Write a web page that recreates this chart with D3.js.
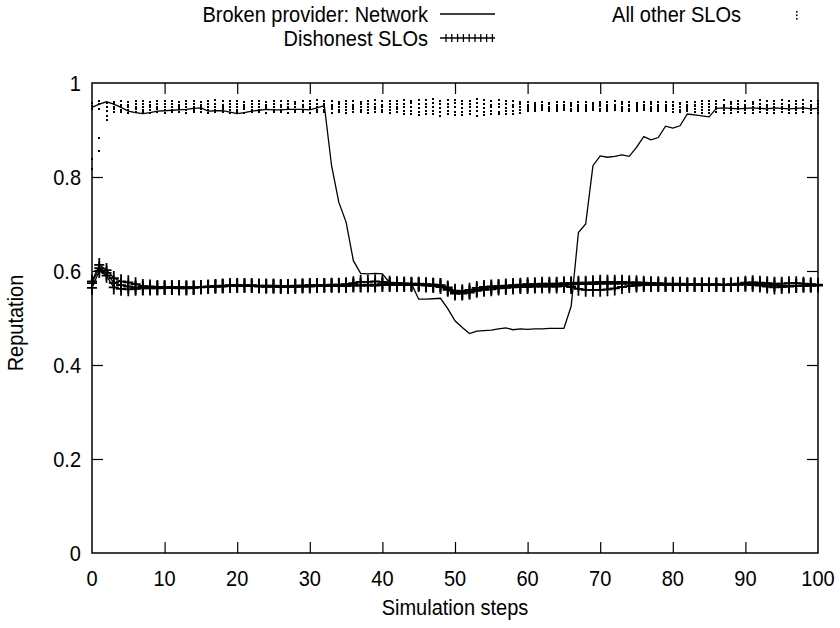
<!DOCTYPE html>
<html><head><meta charset="utf-8">
<script src="https://cdn.jsdelivr.net/npm/d3@7"></script>
<style>body{margin:0;background:#fff} text{font-family:"Liberation Sans",Arial,sans-serif;fill:#000}</style>
</head><body><svg id="c" width="840" height="628"></svg>
<script>
// ---------------- data (values in thousandths of reputation) ----------------
const xTicks = [0,10,20,30,40,50,60,70,80,90,100];
const yTicks = [0,0.2,0.4,0.6,0.8,1];
const yTickLabels = ["0","0.2","0.4","0.6","0.8","1"];
const seriesNames = ["Broken provider: Network","Dishonest SLOs","All other SLOs"];

const network = [948,955,960,955,948,940,937,935,937,940, 941,942,943,944,946,947,940,941,941,938,
 935,937,940,942,944,943,943,944,944,944, 943,947,952,824,746,704,622,595,594,595,
 594,575,574,574,573,540,540,541,542,520, 494,480,467,472,473,474,477,479,475,477,
 476,477,477,478,478,478,525,682,700,824, 845,842,844,847,844,863,886,879,884,908,
 904,909,934,932,930,928,946,947,946,945, 946,947,946,945,947,946,945,946,947,945, 946];

const dishonest1 = [578,613,602,585,578,576,572,568,567,566, 566,566,566,565,565,566,567,568,569,570,
 570,570,570,569,569,569,568,568,569,569, 570,570,570,571,571,572,574,577,577,578,
 577,575,574,573,572,572,571,571,570,565, 558,557,560,564,566,567,568,569,570,571,
 572,572,573,573,573,574,574,575,575,576, 577,577,577,577,576,576,575,574,574,573,
 573,573,572,572,572,572,572,571,572,573, 575,576,575,574,573,573,574,574,573,572, 571];
const dishonest2 = [574,606,596,575,570,567,565,564,564,564, 564,564,563,563,564,565,566,567,568,568,
 569,569,568,568,567,567,567,568,568,569, 569,569,570,570,570,570,570,570,571,571,
 572,572,572,573,573,573,572,571,569,562, 555,553,555,560,563,565,566,567,568,568,
 569,569,570,570,571,571,571,572,572,572, 573,573,573,573,573,572,572,572,571,571,
 571,571,571,571,570,570,570,570,570,571, 571,570,569,567,565,566,567,568,569,569, 570];
const dishonest3 = [564,600,590,565,562,561,562,563,563,563, 564,564,565,565,565,566,566,567,567,568,
 568,568,568,567,567,567,566,566,566,567, 567,568,568,568,568,568,569,569,569,569,
 570,570,570,570,570,570,569,568,566,560, 552,552,554,558,560,561,563,564,565,566,
 566,567,567,567,567,568,566,562,560,560, 560,561,563,566,568,569,570,570,570,570,
 570,570,570,570,570,570,570,570,570,571, 572,573,572,571,570,569,569,569,569,569, 569];

const other1 = [958,962,958,960,961,959,962,961,960,962, 961,962,960,961,962,960,961,963,962,961,
 962,960,961,962,960,961,962,961,960,962, 961,963,962,961,960,962,961,960,962,963,
 961,962,961,963,962,964,963,965,962,963, 964,962,961,965,963,962,964,961,962,960,
 959,958,959,958,960,959,958,959,960,958, 959,960,961,959,960,958,959,960,959,960,
 959,958,960,959,961,962,961,963,960,962, 961,960,963,962,961,963,962,961,963,962, 961];
const other2 = [952,955,950,955,954,953,956,955,954,955, 956,955,954,956,955,954,956,955,954,956,
 955,954,955,956,954,955,954,956,955,954, 955,956,955,954,955,956,954,955,956,955,
 954,955,956,955,957,955,956,957,955,956, 957,955,956,957,955,954,956,955,954,955,
 954,953,954,955,953,954,955,954,953,954, 955,954,953,955,954,953,954,955,954,953,
 954,955,953,954,955,956,955,954,956,955, 954,956,955,954,956,955,954,956,955,954, 955];
const other3 = [945,945,940,950,949,948,950,949,948,950, 949,948,950,949,948,950,949,948,950,949,
 948,950,949,948,950,949,948,950,949,948, 950,949,948,950,949,948,950,949,948,950,
 949,948,950,949,948,947,949,948,947,949, 948,947,949,948,946,949,948,947,949,948,
 949,950,949,950,949,950,951,950,949,950, 951,950,949,950,951,950,949,950,949,950,
 951,950,949,951,950,949,948,950,949,948, 950,949,948,950,949,948,950,949,948,950, 949];
const other4 = [838,884,930,944,943,942,944,943,942,944, 943,942,944,943,942,944,943,942,944,943,
 942,944,943,942,944,943,942,944,943,942, 944,943,942,944,943,942,944,943,942,944,
 943,942,944,941,940,939,941,940,938,940, 939,938,940,941,938,940,939,941,940,942,
 944,945,946,945,944,946,945,944,945,946, 945,944,946,945,944,945,946,945,944,945,
 944,943,945,944,943,942,944,943,942,944, 943,942,944,943,942,944,943,942,944,943, 942];
const other5 = [817,856,922,939,938,937,939,938,937,938, 937,939,938,937,939,938,937,938,939,937,
 938,937,939,938,937,939,938,937,939,938, 937,938,939,937,938,937,939,938,937,938,
 939,937,938,935,934,932,935,933,930,934, 932,931,933,930,932,934,933,935,934,937,
 940,941,942,941,940,942,941,940,941,942, 941,940,942,941,940,941,942,941,940,941,
 939,938,940,939,937,936,938,937,936,938, 937,936,938,937,936,938,937,936,938,937, 936];

// ---------------- drawing ----------------
const svg = d3.select("#c");
const L = 92, R = 818, T = 83, B = 553;
const x = d3.scaleLinear().domain([0,100]).range([L,R]);
const y = d3.scaleLinear().domain([0,1]).range([B,T]);
const toPts = arr => arr.map((v,i)=>[i, v/1000]);
const FONT = 20, SY = 1.1;

// text helper: vertically stretched text anchored at (cx, cy) = visual centre line
function label(parent, cx, cy, str, anchor, rot) {
  const g = parent.append("g").attr("transform",`translate(${cx},${cy})${rot?` rotate(${rot})`:""} scale(1,${SY})`);
  g.append("text").attr("text-anchor",anchor).attr("dy","0.35em").attr("font-size",FONT).text(str);
  return g;
}

// axes (ticks inward, mirrored)
const tickLen = 11;
const axB = svg.append("g").attr("transform",`translate(0,${B})`)
  .call(d3.axisBottom(x).tickValues(xTicks).tickSize(-tickLen).tickFormat(""));
const axT = svg.append("g").attr("transform",`translate(0,${T})`)
  .call(d3.axisTop(x).tickValues(xTicks.slice(1,-1)).tickSize(-tickLen).tickFormat(""));
const axL = svg.append("g").attr("transform",`translate(${L},0)`)
  .call(d3.axisLeft(y).tickValues(yTicks).tickSize(-tickLen).tickFormat(""));
const axR = svg.append("g").attr("transform",`translate(${R},0)`)
  .call(d3.axisRight(y).tickValues(yTicks.slice(1,-1)).tickSize(-tickLen).tickFormat(""));
[axB,axT,axL,axR].forEach(g=>{
  g.select(".domain").remove();
  g.selectAll(".tick text").remove();
  g.selectAll(".tick line").attr("stroke","#000").attr("stroke-width",1.2);
});
axB.selectAll(".tick line").filter(d=>d===0||d===100).remove();
axL.selectAll(".tick line").filter(d=>d===0||d===1).remove();
svg.append("rect").attr("x",L).attr("y",T).attr("width",R-L).attr("height",B-T)
  .attr("fill","none").attr("stroke","#000").attr("stroke-width",1.5);

// tick labels
xTicks.forEach(v=>label(svg, x(v), 578, String(v), "middle"));
yTicks.forEach((v,i)=>label(svg, 81, y(v), yTickLabels[i], "end"));

const line = d3.line().x(d=>x(d[0])).y(d=>y(d[1]));
const plot = svg.append("g");

// Network line
plot.append("path").datum(toPts(network)).attr("d",line)
  .attr("fill","none").attr("stroke","#000").attr("stroke-width",1.3);

// Dishonest SLOs
[dishonest1,dishonest2,dishonest3].forEach(s=>{
  const pts = toPts(s);
  plot.append("path").datum(pts).attr("d",line)
    .attr("fill","none").attr("stroke","#000").attr("stroke-width",1.3);
  const g = plot.append("g").attr("stroke","#000").attr("stroke-width",1.8);
  g.selectAll("path.m").data(pts).join("path").attr("class","m")
    .attr("d",d=>{const px=x(d[0]),py=y(d[1]);return `M${px-5},${py}H${px+5}M${px},${py-7}V${py+7}`;});
});

// All other SLOs (dots)
[other1,other2,other3,other4,other5].forEach(s=>{
  plot.append("g").selectAll("rect").data(toPts(s)).join("rect")
    .attr("x",d=>Math.round(x(d[0]))-1).attr("y",d=>Math.round(y(d[1]))-1)
    .attr("width",2).attr("height",2).attr("fill","#000");
});

// axis titles
label(svg, (L+R)/2, 607, "Simulation steps", "middle");
label(svg, 15, 323, "Reputation", "middle", -90);

// legend
const lg = svg.append("g");
label(lg, 428, 14, seriesNames[0], "end");
lg.append("line").attr("x1",440).attr("x2",495).attr("y1",14).attr("y2",14).attr("stroke","#000").attr("stroke-width",1.3);
label(lg, 428, 38, seriesNames[1], "end");
lg.append("line").attr("x1",440).attr("x2",495).attr("y1",38).attr("y2",38).attr("stroke","#000").attr("stroke-width",1.3);
lg.selectAll("line.tk").data(d3.range(9)).join("line").attr("class","tk")
  .attr("x1",i=>446+i*5.8).attr("x2",i=>446+i*5.8).attr("y1",34).attr("y2",42)
  .attr("stroke","#000").attr("stroke-width",1.3);
label(lg, 741, 14, seriesNames[2], "end");
lg.selectAll("rect.dt").data([0,1,2]).join("rect").attr("class","dt")
  .attr("x",796).attr("y",i=>11+i*3.5).attr("width",1.6).attr("height",1.6).attr("fill","#000");
</script></body></html>
